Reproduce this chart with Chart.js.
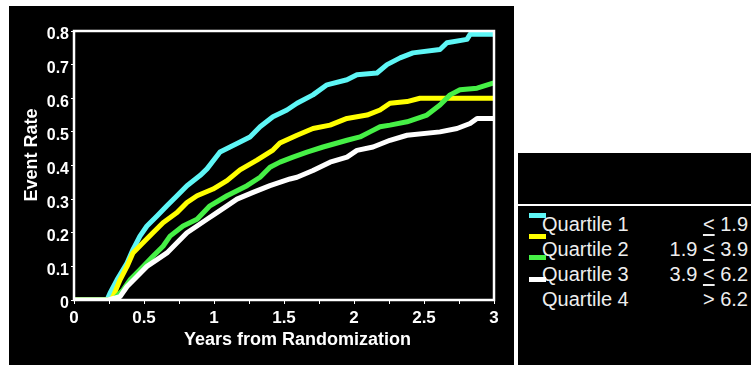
<!DOCTYPE html>
<html>
<head>
<meta charset="utf-8">
<script src="https://cdn.jsdelivr.net/npm/chart.js@4"></script>
<style>
  body { margin: 0; background: #fff; width: 751px; height: 365px; position: relative; overflow: hidden;
         font-family: "Liberation Sans", Arial, sans-serif; }
  #plotBox { position: absolute; left: 9px; top: 6px; width: 505px; height: 359px; background: #000; }
  #legend { position: absolute; left: 518px; top: 153px; width: 233px; height: 212px; background: #000; color: #eee; }
  #legend .rule { position: absolute; left: 0; top: 51px; width: 233px; height: 2px; background: #fff; }
  #legend .sw { position: absolute; left: 11px; width: 17px; height: 5px; }
  #legend .row { position: absolute; left: 24px; right: 3px; font-size: 20px; line-height: 23px; }
  #legend .row .rng { position: absolute; right: 0; top: 0; }
  #legend .u { text-decoration: underline; text-decoration-thickness: 2px; text-underline-offset: 3px; }
</style>
</head>
<body>
<div id="plotBox"><canvas id="myChart" width="505" height="359"></canvas></div>
<div id="legend">
  <div class="rule"></div>
  <div class="row" style="top:60px">Quartile 1<span class="rng"><span class="u">&lt;</span> 1.9</span></div>
  <div class="row" style="top:85px">Quartile 2<span class="rng">1.9 <span class="u">&lt;</span> 3.9</span></div>
  <div class="row" style="top:110px">Quartile 3<span class="rng">3.9 <span class="u">&lt;</span> 6.2</span></div>
  <div class="row" style="top:135px">Quartile 4<span class="rng">&gt; 6.2</span></div>
  <div class="sw" style="top:60px;background:#5ef6f6"></div>
  <div class="sw" style="top:81px;background:#ffff00"></div>
  <div class="sw" style="top:102px;background:#46f046"></div>
  <div class="sw" style="top:124px;background:#ffffff"></div>
</div>
<script>
/* global Chart */

// Kaplan-Meier style event rates
let q1Years = [0, 0.236, 0.257, 0.307, 0.379, 0.421, 0.471, 0.521, 0.593, 0.664, 0.736, 0.807, 0.9, 0.95, 1.043, 1.186, 1.257, 1.329, 1.421, 1.521, 1.593, 1.707, 1.807, 1.95, 2.021, 2.164, 2.236, 2.329, 2.421, 2.614, 2.664, 2.807, 2.829, 3];
let q1Rates = [0, 0, 0.02, 0.06, 0.11, 0.15, 0.19, 0.22, 0.25, 0.28, 0.31, 0.34, 0.37, 0.39, 0.44, 0.47, 0.485, 0.515, 0.545, 0.565, 0.585, 0.61, 0.64, 0.655, 0.67, 0.675, 0.7, 0.72, 0.735, 0.745, 0.765, 0.775, 0.79, 0.79];

let q2Years = [0, 0.257, 0.279, 0.329, 0.379, 0.421, 0.493, 0.564, 0.636, 0.736, 0.807, 0.879, 0.993, 1.093, 1.186, 1.307, 1.421, 1.471, 1.593, 1.707, 1.829, 1.95, 2.093, 2.186, 2.257, 2.379, 2.471, 3];
let q2Rates = [0, 0, 0.01, 0.06, 0.1, 0.14, 0.17, 0.2, 0.23, 0.26, 0.29, 0.31, 0.33, 0.355, 0.387, 0.416, 0.446, 0.467, 0.49, 0.51, 0.52, 0.54, 0.55, 0.565, 0.585, 0.59, 0.6, 0.6];

let q3Years = [0, 0.279, 0.35, 0.4, 0.471, 0.564, 0.636, 0.686, 0.779, 0.879, 0.971, 1.093, 1.236, 1.329, 1.4, 1.471, 1.564, 1.664, 1.779, 1.95, 2.043, 2.114, 2.186, 2.257, 2.379, 2.521, 2.614, 2.686, 2.757, 2.879, 2.993, 3];
let q3Rates = [0, 0, 0.03, 0.06, 0.09, 0.13, 0.16, 0.19, 0.22, 0.24, 0.28, 0.31, 0.34, 0.365, 0.395, 0.41, 0.425, 0.44, 0.455, 0.475, 0.485, 0.5, 0.515, 0.52, 0.53, 0.55, 0.58, 0.61, 0.625, 0.63, 0.645, 0.645];

let q4Years = [0, 0.243, 0.329, 0.379, 0.45, 0.521, 0.593, 0.664, 0.736, 0.807, 0.879, 0.95, 1.021, 1.093, 1.164, 1.279, 1.4, 1.543, 1.593, 1.707, 1.829, 1.95, 2.021, 2.136, 2.257, 2.379, 2.614, 2.736, 2.829, 2.879, 3];
let q4Rates = [0, 0, 0.01, 0.04, 0.07, 0.1, 0.12, 0.14, 0.17, 0.2, 0.22, 0.24, 0.26, 0.28, 0.3, 0.32, 0.34, 0.36, 0.365, 0.385, 0.41, 0.425, 0.445, 0.455, 0.475, 0.49, 0.5, 0.51, 0.525, 0.54, 0.54];

let yTicks = [0, 0.1, 0.2, 0.3, 0.4, 0.5, 0.6, 0.7, 0.8];
let xTickLabels = ["0", "0.5", "1", "1.5", "2", "2.5", "3"];

function pts(xs, ys) {
  return xs.map((x, i) => ({ x: x, y: ys[i] }));
}

const fontFam = "'Liberation Sans', Arial, sans-serif";

// white box round the plot, plus the two axis titles
const frameAndTitles = {
  id: "frameAndTitles",
  afterDatasetsDraw(chart) {
    const { ctx, chartArea: a } = chart;
    ctx.save();
    ctx.strokeStyle = "#fff";
    ctx.lineWidth = 2.5;
    ctx.strokeRect(a.left, a.top, a.right - a.left, a.bottom - a.top);
    ctx.restore();
  },
  afterDraw(chart) {
    const ctx = chart.ctx;
    ctx.save();
    ctx.fillStyle = "#fff";
    ctx.font = "bold 18px " + fontFam;
    ctx.textAlign = "center";
    ctx.textBaseline = "alphabetic";
    ctx.fillText("Years from Randomization", 288.5, 339);
    ctx.translate(27.5, 149);
    ctx.rotate(-Math.PI / 2);
    ctx.fillText("Event Rate", 0, 0);
    ctx.restore();
  },
};

const ctx = document.getElementById("myChart");
const myChart = new Chart(ctx, {
  type: "line",
  data: {
    datasets: [
      { label: "Quartile 1", data: pts(q1Years, q1Rates), borderColor: "#5ef6f6", order: 4 },
      { label: "Quartile 2", data: pts(q2Years, q2Rates), borderColor: "#ffff00", order: 3 },
      { label: "Quartile 3", data: pts(q3Years, q3Rates), borderColor: "#46f046", order: 2 },
      { label: "Quartile 4", data: pts(q4Years, q4Rates), borderColor: "#ffffff", order: 1 },
    ],
  },
  options: {
    responsive: false,
    devicePixelRatio: 1,
    animation: false,
    layout: { padding: { left: 0, top: 25, right: 20, bottom: 0 } },
    elements: {
      line: { borderWidth: 5, stepped: false, tension: 0, borderJoinStyle: "round" },
      point: { radius: 0 },
    },
    plugins: { legend: { display: false }, tooltip: { enabled: false } },
    scales: {
      x: {
        type: "linear",
        min: 0,
        max: 3,
        afterFit: (s) => { s.height = 65; },
        border: { display: false },
        grid: { drawOnChartArea: false, drawTicks: true, tickLength: 4, color: "#fff", lineWidth: 1 },
        ticks: {
          stepSize: 0.25,
          autoSkip: false,
          maxRotation: 0,
          padding: 4,
          color: "#fff",
          font: { family: fontFam, size: 17, weight: "bold" },
          callback: function (v) {
            let k = Math.round(v * 2);
            if (Math.abs(v * 2 - k) > 1e-6) return "";
            return xTickLabels[k];
          },
        },
      },
      y: {
        min: 0,
        max: 0.8,
        afterFit: (s) => { s.width = 65; },
        afterBuildTicks: (s) => { s.ticks = yTicks.map((v) => ({ value: v })); },
        border: { display: false },
        grid: { drawOnChartArea: false, drawTicks: true, tickLength: 3, color: "#fff", lineWidth: 1 },
        ticks: {
          padding: 2,
          labelOffset: 4,
          color: "#fff",
          font: { family: fontFam, size: 16, weight: "bold" },
          callback: (v) => (v === 0 ? "0" : v.toFixed(1)),
        },
      },
    },
  },
  plugins: [frameAndTitles],
});
</script>
</body>
</html>
